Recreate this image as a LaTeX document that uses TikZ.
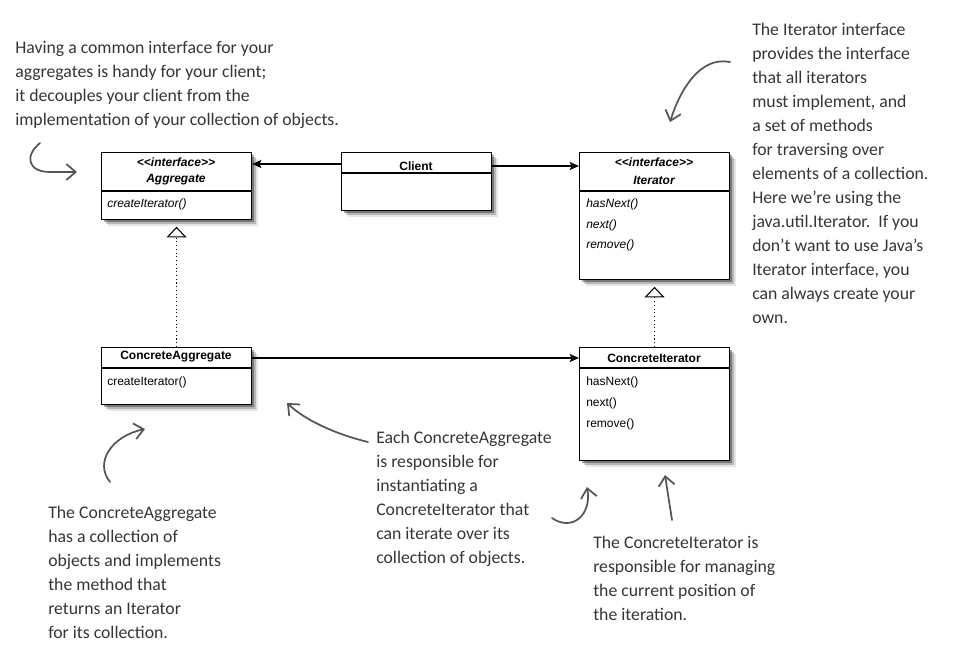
\documentclass[tikz,border=0pt]{standalone}
\usepackage{fontspec}
\usetikzlibrary{arrows.meta,shadows,positioning}
\newfontfamily\umlfont{Liberation Sans}
\newfontfamily\notefont{Carlito}
\definecolor{penc}{HTML}{353535}
\definecolor{inkc}{HTML}{555555}

\tikzset{
  umlshadow/.style={drop shadow={shadow xshift=1.5pt, shadow yshift=-2pt, opacity=0.35, fill=black},
                    drop shadow={shadow xshift=3pt, shadow yshift=-3.5pt, opacity=0.2, fill=black},
                    drop shadow={shadow xshift=4.5pt, shadow yshift=-5pt, opacity=0.1, fill=black}},
  classbox/.style={draw, fill=white, line width=0.8pt, minimum width=112.5pt, inner sep=0pt, anchor=north west, umlshadow},
  uml/.style={font=\umlfont\fontsize{9}{10}\selectfont, inner sep=0pt},
  note/.style={font=\notefont\fontsize{13.3}{18}\selectfont, text=penc, align=left, anchor=north west, inner sep=0pt},
  doodle/.style={inkc, line width=1.3pt, line cap=round, -{Straight Barb[length=7pt,width=12pt]}},
  assoc/.style={line width=1.2pt, -{Stealth[length=7pt,width=6pt,inset=1.5pt]}},
  realize/.style={dotted, line width=0.8pt, shorten >=5pt, -{Triangle[open,length=8pt,width=15pt,fill=white]}},
}

\begin{document}
\begin{tikzpicture}[x=0.75pt, y=-0.75pt]
  \useasboundingbox (0,0) rectangle (954,661);

  % Classes
  \node[classbox, minimum height=50.25pt] (aggregate) at (101,152) {};
  \node[classbox, minimum height=43.5pt] (client) at (341,152) {};
  \node[classbox, minimum height=95.25pt] (iterator) at (579,152) {};
  \node[classbox, minimum height=42.75pt] (concagg) at (101,347) {};
  \node[classbox, minimum height=84.75pt] (concit) at (579,347) {};

  % Dividers
  \draw[line width=0.8pt] (aggregate.west |- 0,191) -- (aggregate.east |- 0,191);
  \draw[line width=0.8pt] (client.west |- 0,173) -- (client.east |- 0,173);
  \draw[line width=0.8pt] (iterator.west |- 0,191) -- (iterator.east |- 0,191);
  \draw[line width=0.8pt] (concagg.west |- 0,368) -- (concagg.east |- 0,368);
  \draw[line width=0.8pt] (concit.west |- 0,368) -- (concit.east |- 0,368);

  % Class names
  \node[uml] (aggst) at (176,162) {\bfseries\itshape <<interface>>};
  \node[uml] (aggname) at (176,180) {\bfseries\itshape Aggregate};
  \node[uml] (clientname) at (416,166) {\bfseries Client};
  \node[uml] (itst) at (654,162) {\bfseries\itshape <<interface>>};
  \node[uml] (itname) at (654,180) {\bfseries\itshape Iterator};
  \node[uml] (caname) at (176,357) {\bfseries ConcreteAggregate};
  \node[uml] (ciname) at (654,358) {\bfseries ConcreteIterator};

  % Methods
  \node[uml, anchor=west] (aggop) at (107,204) {\itshape createIterator()};
  \node[uml, anchor=west] (caop) at (107,382) {createIterator()};
  \foreach \y/\m/\n in {204/hasNext()/itopa, 225/next()/itopb, 245/remove()/itopc} {
    \node[uml, anchor=west] (\n) at (586,\y) {\itshape \m};
  }
  \foreach \y/\m/\n in {382/hasNext()/ciopa, 403/next()/ciopb, 424/remove()/ciopc} {
    \node[uml, anchor=west] (\n) at (586,\y) {\m};
  }

  % Associations
  \draw[assoc] (client.west |- 0,164) -- (aggregate.east |- 0,164);
  \draw[assoc] (client.east |- 0,166) -- (iterator.west |- 0,166);
  \draw[assoc] (concagg.east |- 0,358) -- (concit.west |- 0,358);
  \draw[realize] (concagg.north) -- (aggregate.south);
  \draw[realize] (concit.north) -- (iterator.south);

  % Notes
  \node[note] (noteagg) at (15,41) {Having a common interface for your\\
    aggregates is handy for your client;\\
    it decouples your client from the\\
    implementation of your collection of objects.};
  \node[note] (noteit) at (752,23) {The Iterator interface\\
    provides the interface\\
    that all iterators\\
    must implement, and\\
    a set of methods\\
    for traversing over\\
    elements of a collection.\\
    Here we’re using the\\
    java.util.Iterator.\ \ If you\\
    don’t want to use Java’s\\
    Iterator interface, you\\
    can always create your\\
    own.};
  \node[note] (noteca) at (48,506) {The ConcreteAggregate\\
    has a collection of\\
    objects and implements\\
    the method that\\
    returns an Iterator\\
    for its collection.};
  \node[note] (noteeach) at (376,431) {Each ConcreteAggregate\\
    is responsible for\\
    instantiating a\\
    ConcreteIterator that\\
    can iterate over its\\
    collection of objects.};
  \node[note] (noteci) at (593,536) {The ConcreteIterator is\\
    responsible for managing\\
    the current position of\\
    the iteration.};

  % Doodled arrows
  \coordinate (da1) at (40,143);  \coordinate (db1) at (77,172);
  \coordinate (da2) at (730,62);  \coordinate (db2) at (670,122);
  \coordinate (da3) at (110,482); \coordinate (db3) at (145,429);
  \coordinate (da4) at (368,442); \coordinate (db4) at (287,403);
  \coordinate (da5) at (552,518); \coordinate (db5) at (587,487);
  \coordinate (da6) at (672,520); \coordinate (db6) at (665,475);
  \draw[doodle] (da1) .. controls (24,156) and (28,172) .. (50,172) -- (db1);
  \draw[doodle] (da2) .. controls (700,56) and (680,90) .. (db2);
  \draw[doodle] (da3) .. controls (94,462) and (112,436) .. (db3);
  \draw[doodle] (da4) .. controls (335,434) and (305,420) .. (db4);
  \draw[doodle] (da5) .. controls (572,532) and (592,515) .. (db5);
  \draw[doodle] (da6) -- (db6);
\end{tikzpicture}
\end{document}
